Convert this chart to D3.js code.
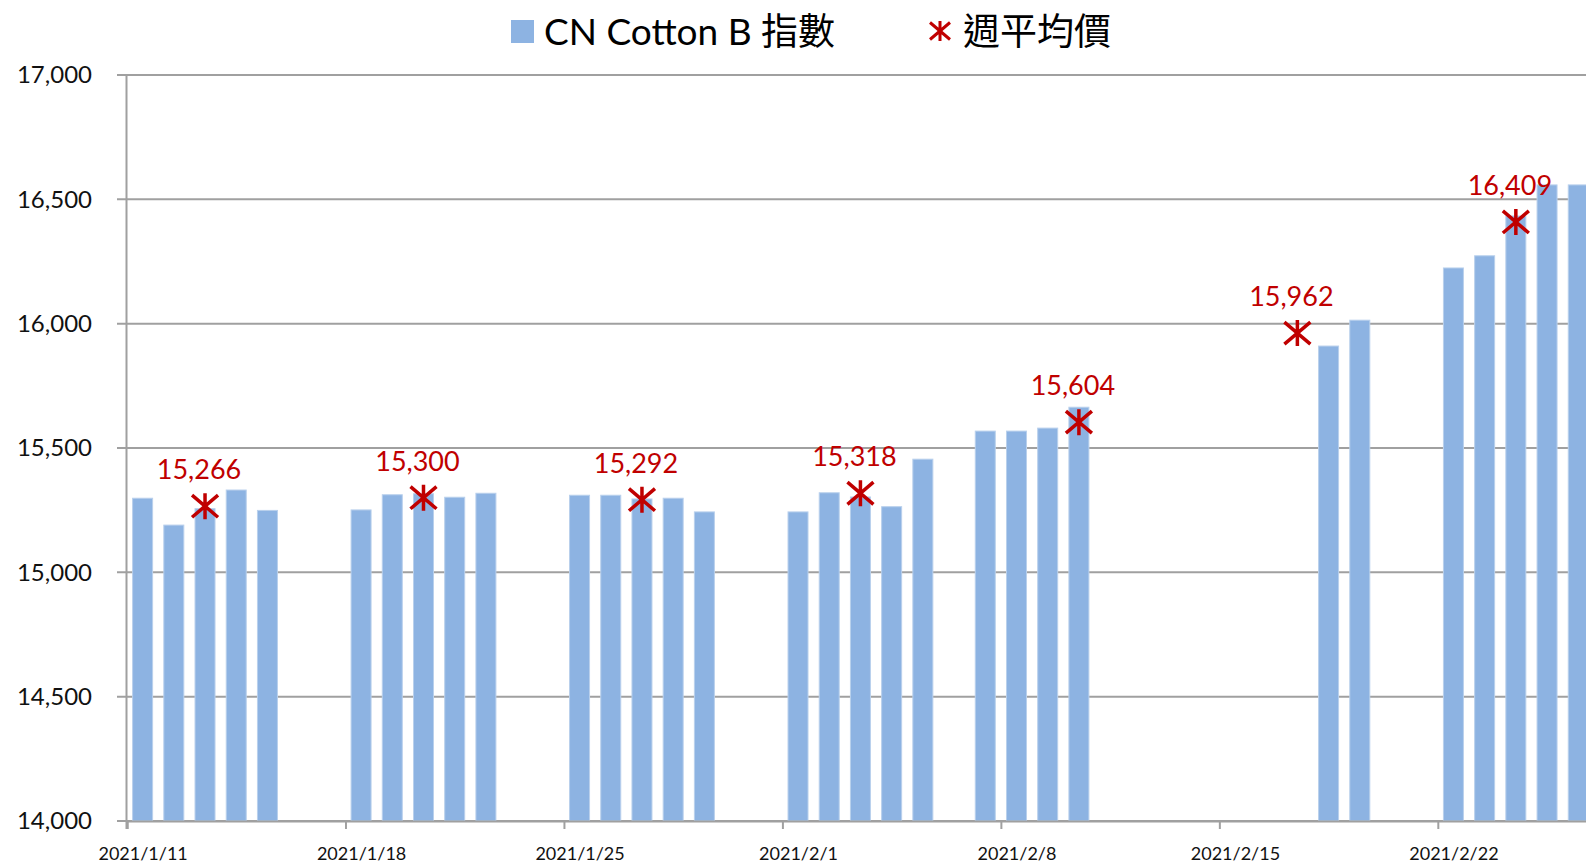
<!DOCTYPE html>
<html>
<head>
<meta charset="utf-8">
<script src="https://cdn.jsdelivr.net/npm/d3@7"></script>
<style>
  body { margin: 0; background: #fff; overflow: hidden; }
  text { font-family: Lato, "Noto Sans CJK TC", sans-serif; }
</style>
</head>
<body>
<div id="chart"></div>
<script>
// daily index (bars)
var barDates = [
  "2021-01-11", "2021-01-12", "2021-01-13", "2021-01-14", "2021-01-15",
  "2021-01-18", "2021-01-19", "2021-01-20", "2021-01-21", "2021-01-22",
  "2021-01-25", "2021-01-26", "2021-01-27", "2021-01-28", "2021-01-29",
  "2021-02-01", "2021-02-02", "2021-02-03", "2021-02-04", "2021-02-05",
  "2021-02-07", "2021-02-08", "2021-02-09", "2021-02-10",
  "2021-02-18", "2021-02-19",
  "2021-02-22", "2021-02-23", "2021-02-24", "2021-02-25", "2021-02-26"
];
var barValues = [
  15298, 15190, 15256, 15331, 15249,
  15251, 15312, 15316, 15302, 15318,
  15310, 15310, 15295, 15298, 15243,
  15243, 15320, 15303, 15264, 15455,
  15568, 15568, 15580, 15664,
  15910, 16014,
  16224, 16273, 16433, 16558, 16558
];

// weekly average (markers)
var avgDates = ["2021-01-13", "2021-01-20", "2021-01-27", "2021-02-03", "2021-02-10", "2021-02-17", "2021-02-24"];
var avgValues = [15266, 15300, 15292, 15318, 15604, 15962, 16409];

var yTicks = [14000, 14500, 15000, 15500, 16000, 16500, 17000];
var xTickDates = ["2021-01-11", "2021-01-18", "2021-01-25", "2021-02-01", "2021-02-08", "2021-02-15", "2021-02-22"];

var seriesNames = ["CN Cotton B 指數", "週平均價"];

var width = 1586, height = 866;
var parse = d3.timeParse("%Y-%m-%d");
var fmtTick = d3.timeFormat("%Y/%-m/%-d");
var fmtNum = d3.format(",");

var blue = "#8db3e2", red = "#c00000", grid = "#a0a0a0";

var svg = d3.select("#chart")
  .append("svg")
    .attr("width", width)
    .attr("height", height);

// x: one slot per calendar day
var dayW = 31.21;
var start = parse("2021-01-11");
var end = d3.timeDay.offset(start, 50);
var x = d3.scaleTime()
  .domain([start, end])
  .range([127, 127 + dayW * 50]);
function mid(d) { return x(d3.timeHour.offset(d, 12)); }

var y = d3.scaleLinear()
  .domain([14000, 17000])
  .range([821, 75]);

// gridlines
svg.append("g")
  .selectAll("line")
  .data(yTicks)
  .enter()
  .append("line")
    .attr("x1", 117)
    .attr("x2", width)
    .attr("y1", function (d) { return y(d); })
    .attr("y2", function (d) { return y(d); })
    .style("stroke", grid)
    .style("stroke-width", 2);

// y labels
svg.append("g")
  .selectAll("text")
  .data(yTicks)
  .enter()
  .append("text")
    .attr("x", 92)
    .attr("y", function (d) { return y(d); })
    .attr("dy", "0.35em")
    .attr("text-anchor", "end")
    .style("font-size", "24px")
    .style("fill", "#111")
    .text(function (d) { return fmtNum(d); });

// bars
svg.append("g")
  .selectAll("rect")
  .data(barDates)
  .enter()
  .append("rect")
    .attr("x", function (d) { return mid(parse(d)) - 10; })
    .attr("width", 20)
    .attr("y", function (d, i) { return y(barValues[i]); })
    .attr("height", function (d, i) { return y(14000) - y(barValues[i]); })
    .style("fill", blue)
    .style("stroke", "#b9d0ec")
    .style("stroke-width", 1);

// x axis
var xAxis = d3.axisBottom(x)
  .tickValues(xTickDates.map(parse))
  .tickSize(8)
  .tickFormat(fmtTick);
var gx = svg.append("g")
  .attr("transform", "translate(0," + y(14000) + ")")
  .call(xAxis);
gx.select(".domain").style("stroke", grid).style("stroke-width", 2);
gx.selectAll(".tick line").style("stroke", grid).style("stroke-width", 2);
gx.selectAll(".tick text")
  .attr("x", dayW / 2)
  .attr("y", 26)
  .attr("dy", "0.71em")
  .style("font-family", "Lato, sans-serif")
  .style("font-size", "18px")
  .style("fill", "#111");

// y axis line
svg.append("line")
  .attr("x1", 126.5).attr("x2", 126.5)
  .attr("y1", y(17000)).attr("y2", y(14000) + 8)
  .style("stroke", grid)
  .style("stroke-width", 2);

// asterisk marker: vertical bar plus an X
function star(r) {
  var kx = r, ky = r * 0.85;
  return "M0," + (-r) + "L0," + r +
    "M" + (-kx) + "," + (-ky) + "L" + kx + "," + ky +
    "M" + (-kx) + "," + ky + "L" + kx + "," + (-ky);
}

var avg = svg.append("g");
avg.selectAll("path")
  .data(avgDates)
  .enter()
  .append("path")
    .attr("transform", function (d, i) {
      return "translate(" + mid(parse(d)) + "," + y(avgValues[i]) + ")";
    })
    .attr("d", star(13))
    .style("stroke", red)
    .style("stroke-width", 3.5)
    .style("fill", "none");

avg.selectAll("text")
  .data(avgDates)
  .enter()
  .append("text")
    .attr("x", function (d) { return mid(parse(d)) - 6; })
    .attr("y", function (d, i) { return y(avgValues[i]) - 27; })
    .attr("text-anchor", "middle")
    .style("font-size", "27px")
    .style("fill", red)
    .text(function (d, i) { return fmtNum(avgValues[i]); });

// legend
var lg = svg.append("g");
lg.append("rect")
  .attr("x", 511).attr("y", 20)
  .attr("width", 23).attr("height", 23)
  .style("fill", blue);
lg.append("text")
  .attr("x", 544).attr("y", 45)
  .style("font-size", "37px")
  .style("fill", "#000")
  .text(seriesNames[0]);
lg.append("path")
  .attr("transform", "translate(940,31)")
  .attr("d", star(10))
  .style("stroke", red)
  .style("stroke-width", 3)
  .style("fill", "none");
lg.append("text")
  .attr("x", 963).attr("y", 45)
  .style("font-size", "37px")
  .style("fill", "#000")
  .text(seriesNames[1]);
</script>
</body>
</html>
